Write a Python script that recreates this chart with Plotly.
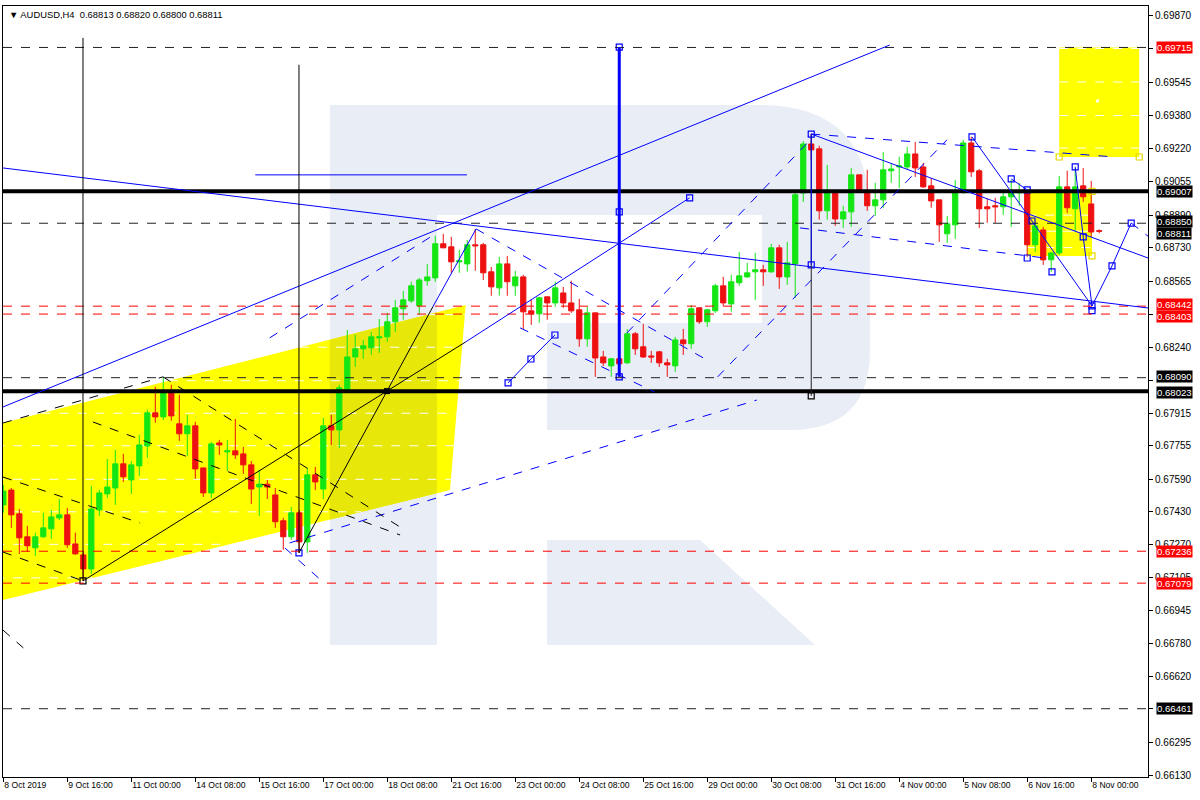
import plotly.graph_objects as go

# ---------------- data (AUDUSD H4, bar index 0 = 8 Oct 2019 08:00) ----------------
bar_index = list(range(138))
opens = [0.67464,0.67537,0.67420,0.67307,0.67253,0.67307,0.67346,0.67400,0.67415,0.67272,
         0.67218,0.67149,0.67439,0.67518,0.67547,0.67666,0.67587,0.67656,0.67754,0.67917,
         0.67897,0.68015,0.67863,0.67814,0.67853,0.67646,0.67523,0.67769,0.67725,0.67730,
         0.67715,0.67661,0.67552,0.67566,0.67513,0.67386,0.67307,0.67425,0.67282,0.67612,
         0.67542,0.67853,0.67833,0.68030,0.68192,0.68232,0.68237,0.68286,0.68291,0.68365,
         0.68429,0.68468,0.68444,0.68567,0.68581,0.68749,0.68734,0.68660,0.68650,0.68744,
         0.68744,0.68611,0.68532,0.68650,0.68542,0.68586,0.68419,0.68404,0.68488,0.68458,
         0.68507,0.68458,0.68424,0.68281,0.68409,0.68192,0.68148,0.68183,0.68163,0.68306,
         0.68242,0.68197,0.68217,0.68163,0.68148,0.68276,0.68257,0.68434,0.68365,0.68419,
         0.68542,0.68453,0.68557,0.68586,0.68611,0.68621,0.68611,0.68729,0.68586,0.68650,
         0.68999,0.69240,0.69216,0.68911,0.68999,0.68871,0.68906,0.69088,0.69004,0.68936,
         0.68965,0.69108,0.69127,0.69127,0.69191,0.69127,0.69034,0.68965,0.68798,0.68842,
         0.69004,0.69245,0.69108,0.68931,0.68936,0.68931,0.68980,0.68999,0.68999,0.68744,
         0.68817,0.68670,0.68704,0.69029,0.68921,0.69034,0.68945,0.68813]
highs = [0.67562,0.67547,0.67444,0.67361,0.67327,0.67425,0.67439,0.67493,0.67449,0.67327,
         0.67233,0.67557,0.67537,0.67690,0.67735,0.67715,0.67680,0.67809,0.67932,0.68045,
         0.68094,0.68055,0.68006,0.67907,0.67873,0.67646,0.67774,0.67784,0.67784,0.67887,
         0.67749,0.67680,0.67636,0.67587,0.67547,0.67400,0.67454,0.67439,0.67646,0.67651,
         0.67892,0.67907,0.68055,0.68325,0.68301,0.68276,0.68315,0.68379,0.68409,0.68473,
         0.68517,0.68562,0.68581,0.68650,0.68788,0.68798,0.68783,0.68719,0.68768,0.68822,
         0.68753,0.68635,0.68685,0.68689,0.68616,0.68596,0.68478,0.68488,0.68488,0.68562,
         0.68537,0.68567,0.68478,0.68439,0.68409,0.68222,0.68187,0.68202,0.68330,0.68315,
         0.68355,0.68222,0.68222,0.68183,0.68291,0.68330,0.68448,0.68434,0.68429,0.68552,
         0.68586,0.68596,0.68709,0.68655,0.68704,0.68645,0.68749,0.68744,0.68758,0.68999,
         0.69255,0.69290,0.69231,0.69137,0.69014,0.68936,0.69122,0.69088,0.69113,0.69049,
         0.69201,0.69142,0.69177,0.69226,0.69250,0.69147,0.69073,0.68965,0.68886,0.69063,
         0.69260,0.69275,0.69117,0.68970,0.68975,0.68999,0.69063,0.69049,0.69009,0.68852,
         0.68832,0.68709,0.69083,0.69108,0.69122,0.69122,0.69058,0.68820]
lows = [0.67425,0.67351,0.67223,0.67233,0.67213,0.67302,0.67297,0.67390,0.67253,0.67218,
        0.67090,0.67125,0.67410,0.67498,0.67464,0.67577,0.67518,0.67607,0.67695,0.67868,
        0.67882,0.67878,0.67779,0.67705,0.67592,0.67503,0.67498,0.67710,0.67631,0.67690,
        0.67617,0.67469,0.67410,0.67493,0.67351,0.67243,0.67292,0.67228,0.67228,0.67537,
        0.67493,0.67759,0.67744,0.68030,0.68143,0.68183,0.68202,0.68212,0.68266,0.68315,
        0.68375,0.68458,0.68399,0.68542,0.68562,0.68729,0.68606,0.68606,0.68611,0.68616,
        0.68571,0.68493,0.68493,0.68493,0.68493,0.68330,0.68350,0.68360,0.68375,0.68439,
        0.68434,0.68409,0.68242,0.68242,0.68094,0.68148,0.68094,0.68089,0.68158,0.68202,
        0.68187,0.68163,0.68143,0.68094,0.68119,0.68202,0.68232,0.68355,0.68340,0.68409,
        0.68444,0.68414,0.68542,0.68581,0.68473,0.68542,0.68606,0.68527,0.68547,0.68483,
        0.68955,0.69162,0.68867,0.68867,0.68837,0.68827,0.68832,0.68999,0.68911,0.68886,
        0.68926,0.69049,0.69024,0.69113,0.69078,0.69024,0.68926,0.68758,0.68753,0.68773,
        0.68994,0.69078,0.68827,0.68852,0.68852,0.68891,0.68832,0.68936,0.68685,0.68709,
        0.68645,0.68611,0.68694,0.68901,0.68807,0.68955,0.68783,0.68800]
closes = [0.67532,0.67415,0.67302,0.67263,0.67307,0.67351,0.67405,0.67415,0.67268,0.67223,
          0.67149,0.67444,0.67523,0.67552,0.67666,0.67602,0.67661,0.67759,0.67917,0.67897,
          0.68015,0.67902,0.67814,0.67853,0.67641,0.67523,0.67764,0.67759,0.67730,0.67710,
          0.67661,0.67542,0.67566,0.67552,0.67381,0.67307,0.67425,0.67282,0.67612,0.67577,
          0.67853,0.67833,0.68040,0.68192,0.68232,0.68247,0.68291,0.68291,0.68365,0.68434,
          0.68473,0.68542,0.68571,0.68586,0.68749,0.68729,0.68660,0.68665,0.68744,0.68739,
          0.68606,0.68537,0.68650,0.68562,0.68586,0.68414,0.68404,0.68483,0.68458,0.68532,
          0.68458,0.68419,0.68281,0.68409,0.68187,0.68163,0.68183,0.68158,0.68306,0.68232,
          0.68192,0.68192,0.68163,0.68153,0.68276,0.68257,0.68429,0.68365,0.68424,0.68542,
          0.68458,0.68562,0.68591,0.68606,0.68621,0.68611,0.68729,0.68586,0.68655,0.68990,
          0.69240,0.69211,0.68911,0.68999,0.68871,0.68906,0.69088,0.69004,0.68936,0.68965,
          0.69113,0.69117,0.69132,0.69191,0.69122,0.69029,0.68960,0.68842,0.68847,0.69004,
          0.69245,0.69103,0.68921,0.68921,0.68931,0.68980,0.69009,0.69004,0.68744,0.68837,
          0.68670,0.68704,0.69029,0.68926,0.69029,0.68980,0.68807,0.68811]

x_tick_labels = ["8 Oct 2019", "9 Oct 16:00", "11 Oct 00:00", "14 Oct 08:00", "15 Oct 16:00",
                 "17 Oct 00:00", "18 Oct 08:00", "21 Oct 16:00", "23 Oct 00:00", "24 Oct 08:00",
                 "25 Oct 16:00", "29 Oct 00:00", "30 Oct 08:00", "31 Oct 16:00", "4 Nov 00:00",
                 "5 Nov 08:00", "6 Nov 16:00", "8 Nov 00:00"]
y_tick_values = [0.69870, 0.69710, 0.69545, 0.69380, 0.69220, 0.69055, 0.68890, 0.68730,
                 0.68565, 0.68400, 0.68240, 0.68075, 0.67915, 0.67755, 0.67590, 0.67430,
                 0.67270, 0.67105, 0.66945, 0.66780, 0.66620, 0.66460, 0.66295, 0.66130]
# tick labels that sit completely under a price-label box in the original
hidden_ticks = [0.69710, 0.68400, 0.68075, 0.66460]

black_levels = [0.69007, 0.68850, 0.68811, 0.68090, 0.68023, 0.66461]
red_levels = [0.69715, 0.68442, 0.68403, 0.67236, 0.67079]
label_nudge = {0.68850: 2, 0.68811: -2, 0.68442: 2, 0.68403: -2, 0.68090: 1, 0.68023: -1}
thick_levels = [0.69007, 0.68023]
dashed_black_levels = [0.69715, 0.68850, 0.68090, 0.66461]
dashed_red_levels = [0.68442, 0.68403, 0.67236, 0.67079]

header = "AUDUSD,H4  0.68813 0.68820 0.68800 0.68811"

GREEN = "#14e614"
RED = "#ee1111"
BLUE = "#0000ff"
LOGO = "#e9edf5"
YELLOW = "#ffff00"
DARK_YELLOW = "#e7e70a"
FONT = "Liberation Sans"

X_RANGE = [-0.04, 143.1]
Y_RANGE = [0.66125, 0.69919]

fig = go.Figure()
fig.add_trace(go.Candlestick(
    x=bar_index, open=opens, high=highs, low=lows, close=closes,
    increasing=dict(line=dict(color=GREEN, width=1), fillcolor=GREEN),
    decreasing=dict(line=dict(color=RED, width=1), fillcolor=RED),
    whiskerwidth=0, hoverinfo="skip", showlegend=False))

shapes = []

# ---- watermark logo (paper coordinates, designed on the 1200x800 canvas) ----
def lp(x, y):
    return (x - 3) / 1145.0, (777 - y) / 771.0

def path(cmds):
    out = []
    for c in cmds:
        if c == "Z":
            out.append("Z")
            continue
        op, pts = c[0], c[1:]
        s = op
        for (x, y) in pts:
            px, py = lp(x, y)
            s += f" {px:.5f},{py:.5f}"
        out.append(s)
    return " ".join(out)

logo_main = path([("M", (330, 105)), ("L", (760, 105)), ("Q", (870, 105), (870, 215)),
                  ("L", (870, 350)), ("Q", (870, 430), (790, 430)), ("L", (547, 430)),
                  ("L", (547, 323)), ("L", (762, 323)), ("L", (762, 215)), ("L", (437, 215)),
                  ("L", (437, 645)), ("L", (330, 645)), "Z"])
logo_leg = path([("M", (547, 540)), ("L", (700, 540)), ("L", (815, 645)), ("L", (547, 645)), "Z"])
for p in (logo_main, logo_leg):
    shapes.append(dict(type="path", path=p, xref="paper", yref="paper", fillcolor=LOGO,
                       line=dict(width=0), layer="below"))

# ---- yellow zones (data coordinates) ----
band = [(-1, 0.67857), (57.8, 0.68448), (55.84, 0.67537), (-1, 0.66987)]
band_dark = [(40.8, 0.68277), (54.2, 0.68412), (54.2, 0.67521), (40.8, 0.67391)]
box_top = [(132.0, 0.69715), (142.0, 0.69715), (142.0, 0.69176), (132.0, 0.69176)]
box_mid = [(128.0, 0.69007), (136.1, 0.69007), (136.1, 0.68689), (128.0, 0.68689)]

def poly_path(pts):
    return "M " + " L ".join(f"{x},{y}" for x, y in pts) + " Z"

for poly, col in ((band, YELLOW), (band_dark, DARK_YELLOW), (box_top, YELLOW), (box_mid, YELLOW)):
    shapes.append(dict(type="path", path=poly_path(poly), xref="x", yref="y", fillcolor=col,
                       line=dict(width=0), layer="below"))

def h_clip(poly, level):
    xs = []
    n = len(poly)
    for i in range(n):
        (x0, y0), (x1, y1) = poly[i], poly[(i + 1) % n]
        if (y0 - level) * (y1 - level) <= 0 and y0 != y1:
            t = (level - y0) / (y1 - y0)
            xs.append(x0 + t * (x1 - x0))
    return (min(xs), max(xs)) if len(xs) >= 2 else None

# white grid dashes visible only on the yellow zones
for poly in (band, box_top, box_mid):
    for lv in y_tick_values + [0.68811]:
        seg = h_clip(poly, lv)
        if seg:
            shapes.append(dict(type="line", xref="x", yref="y", x0=seg[0], x1=seg[1], y0=lv, y1=lv,
                               line=dict(color="white", width=1,
                                         dash="solid" if lv == 0.68811 else "dash"),
                               layer="below"))

# ---- horizontal levels ----
for lv in thick_levels:
    shapes.append(dict(type="line", xref="paper", yref="y", x0=0, x1=1, y0=lv, y1=lv,
                       line=dict(color="black", width=4)))
for lv in dashed_black_levels:
    shapes.append(dict(type="line", xref="paper", yref="y", x0=0, x1=1, y0=lv, y1=lv,
                       line=dict(color="#222222", width=1, dash="dash")))
for lv in dashed_red_levels:
    shapes.append(dict(type="line", xref="paper", yref="y", x0=0, x1=1, y0=lv, y1=lv,
                       line=dict(color="#ff0000", width=1, dash="dash")))

# ---- analyst drawings (bar index, price) ----
solid_blue = [
    [(-0.04, 0.67946), (110.8, 0.69727)],
    [(-0.04, 0.69122), (143.1, 0.68433)],
    [(31.5, 0.69088), (57.96, 0.69088)],
    [(57.8, 0.68266), (85.8, 0.68975)],
    [(53.7, 0.68439), (59.1, 0.68822)],
    [(63.1, 0.68064), (65.96, 0.68182), (68.96, 0.68300)],
    [(101.0, 0.69289), (143.1, 0.68679)],
    [(121.1, 0.69275), (128.6, 0.68861), (136.1, 0.68443)],
    [(134.0, 0.69127), (135.0, 0.68783), (136.1, 0.68443)],
    [(136.1, 0.68443), (138.6, 0.68640), (141.0, 0.68851)],
    [(126.0, 0.69068), (128.0, 0.69014)],
]
dashed_blue = [
    [(141.0, 0.68851), (144.6, 0.68740)],
    [(101.0, 0.69289), (138.96, 0.69176)],
    [(99.6, 0.68827), (130.2, 0.68679)],
    [(77.96, 0.68310), (101.2, 0.69274)],
    [(89.3, 0.68094), (117.96, 0.69260)],
    [(59.1, 0.68822), (87.96, 0.68177)],
    [(64.6, 0.68335), (81.4, 0.68020)],
    [(33.3, 0.68286), (54.2, 0.68802)],
    [(35.8, 0.67277), (94.2, 0.67980)],
    [(35.2, 0.67252), (39.96, 0.67085)],
]
solid_black = [
    [(9.96, 0.67090), (57.8, 0.68266)],
    [(36.96, 0.67228), (53.7, 0.68439)],
]
dashed_black = [
    [(-0.04, 0.67601), (17.1, 0.67375)],
    [(-0.04, 0.67232), (9.96, 0.67090)],
    [(11.2, 0.67872), (49.6, 0.67316)],
    [(19.96, 0.68094), (49.6, 0.67355)],
    [(-0.04, 0.67867), (19.96, 0.68094)],
    [(-0.04, 0.66848), (3.1, 0.66740)],
]
verticals = [  # (bar, top, bottom, colour, width)
    (9.96, 0.69762, 0.67090, "black", 1),
    (36.96, 0.69630, 0.67228, "black", 1),
    (77.0, 0.69717, 0.68094, BLUE, 3),
    (101.0, 0.69289, 0.68000, "#222222", 1),
    (101.0, 0.69289, 0.68645, BLUE, 1),
]

def add_poly(pts, color, width, dash):
    for (x0, y0), (x1, y1) in zip(pts[:-1], pts[1:]):
        shapes.append(dict(type="line", xref="x", yref="y", x0=x0, y0=y0, x1=x1, y1=y1,
                           line=dict(color=color, width=width, dash=dash)))

for pts in solid_blue:
    add_poly(pts, BLUE, 1, "solid")
for pts in dashed_blue:
    add_poly(pts, BLUE, 1, "dash")
for pts in solid_black:
    add_poly(pts, "black", 1, "solid")
for pts in dashed_black:
    add_poly(pts, "black", 1, "dash")
for bx, top, bot, col, w in verticals:
    shapes.append(dict(type="line", xref="x", yref="y", x0=bx, x1=bx, y0=top, y1=bot,
                       line=dict(color=col, width=w)))

# anchor squares
blue_sq = [(77.0, 0.69717), (77.0, 0.68906), (77.0, 0.68094), (101.0, 0.69289), (101.0, 0.68645),
           (85.8, 0.68975), (63.1, 0.68064), (65.96, 0.68182), (68.96, 0.68300), (36.96, 0.67228),
           (121.1, 0.69275), (126.0, 0.69068), (128.0, 0.69014), (128.0, 0.68679), (128.6, 0.68861),
           (131.1, 0.68611), (134.0, 0.69127), (135.0, 0.68783), (136.1, 0.68443), (136.1, 0.68420),
           (138.6, 0.68640), (141.0, 0.68851)]
black_sq = [(9.96, 0.67090), (101.0, 0.68000)]
yellow_sq = [(132.0, 0.69176), (142.0, 0.69176), (136.1, 0.69007), (136.1, 0.68689)]
for pts, col in ((blue_sq, BLUE), (black_sq, "black"), (yellow_sq, "#e8d800")):
    fig.add_trace(go.Scatter(x=[p[0] for p in pts], y=[p[1] for p in pts], mode="markers",
                             marker=dict(symbol="square-open", size=6, color=col,
                                         line=dict(width=1.2, color=col)),
                             hoverinfo="skip", showlegend=False))
fig.add_trace(go.Scatter(x=[47.96], y=[0.68024], mode="markers",
                         marker=dict(symbol="square", size=6, color="black"),
                         hoverinfo="skip", showlegend=False))
fig.add_trace(go.Scatter(x=[136.8], y=[0.69452], mode="markers",
                         marker=dict(symbol="square", size=3, color="white"),
                         hoverinfo="skip", showlegend=False))

# ---- price labels on the right axis ----
annotations = []
for levels, bg in ((black_levels, "black"), (red_levels, "#ff0000")):
    for lv in levels:
        annotations.append(dict(x=1, xref="paper", y=lv, yref="y", xanchor="left", yanchor="middle",
                                xshift=8, yshift=label_nudge.get(lv, 0), text=f"{lv:.5f}",
                                showarrow=False, bgcolor=bg,
                                font=dict(color="white", size=9.6, family=FONT), borderpad=0))
annotations.append(dict(x=0, xref="paper", y=1, yref="paper", xanchor="left", yanchor="top",
                        xshift=4, yshift=-1, showarrow=False,
                        text="\u25bc " + header,
                        font=dict(color="black", size=9.4, family=FONT)))

fig.update_layout(
    width=1200, height=800,
    margin=dict(l=3, r=52, t=6, b=23, autoexpand=False),
    paper_bgcolor="white", plot_bgcolor="white",
    shapes=shapes, annotations=annotations,
    boxgap=0.35, boxgroupgap=0,
    showlegend=False,
    xaxis=dict(range=X_RANGE, tickvals=[8 * i for i in range(len(x_tick_labels))],
               ticktext=x_tick_labels, ticks="outside", ticklen=4, tickcolor="black",
               tickangle=0, automargin=False,
               ticklabelposition="outside right", showgrid=False, zeroline=False,
               showline=True, linecolor="black", mirror=True, rangeslider=dict(visible=False),
               tickfont=dict(size=8.6, family=FONT, color="black")),
    yaxis=dict(range=Y_RANGE, side="right", tickvals=y_tick_values, automargin=False,
               ticktext=["" if v in hidden_ticks else f"{v:.5f}" for v in y_tick_values],
               ticks="outside", ticklen=4,
               tickcolor="black", showgrid=False, zeroline=False, showline=True,
               linecolor="black", mirror=True,
               tickfont=dict(size=10, family=FONT, color="black")),
)

fig.write_html("out.html", config={"displayModeBar": False},
               post_script="document.body.style.margin='0px';document.body.style.overflow='hidden';")
